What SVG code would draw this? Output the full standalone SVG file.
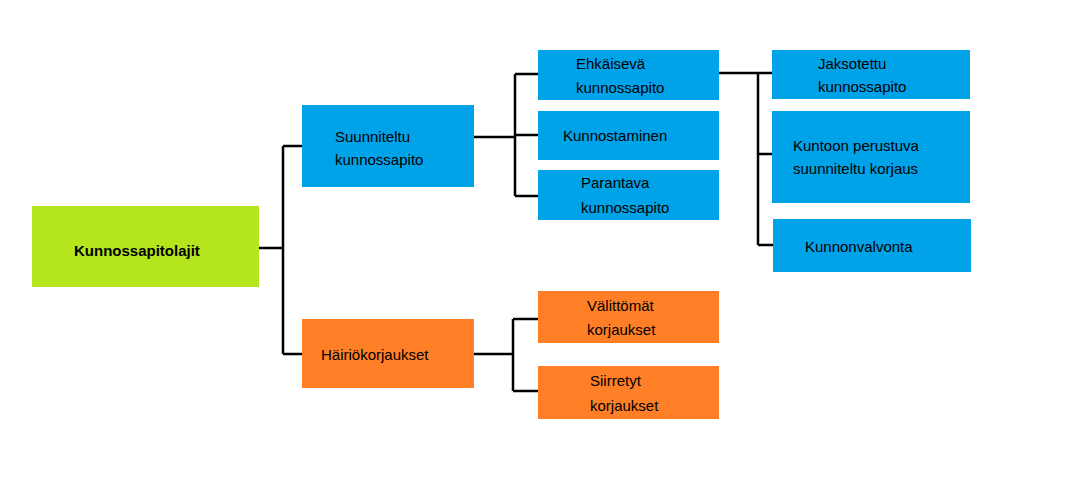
<svg xmlns="http://www.w3.org/2000/svg" width="1074" height="478" viewBox="0 0 1074 478">
<style>
.b{fill:#00A2E8}.o{fill:#FF7F27}.g{fill:#B5E61D}
text{font-family:"Liberation Sans",Arial,sans-serif;font-size:15px;fill:#000}
.c path{stroke:#000;stroke-width:2.5;fill:none}
</style>
<rect width="1074" height="478" fill="#fff"/>
<g class="c">
<path d="M259 248H283M283 146V354M283 146H302M283 354H302"/>
<path d="M474 137H515M515 74V196M515 74H538M515 135H538M515 196H538"/>
<path d="M474 354H513M513 319V391M513 319H538M513 391H538"/>
<path d="M719 73H758M758 73V245M758 73H772M758 154H772M758 245H773"/>
</g>
<g id="n-root"><rect class="g" x="32" y="206" width="227" height="81"/><text x="74" y="256" font-weight="bold">Kunnossapitolajit</text></g>
<g id="n-suun"><rect class="b" x="302" y="105" width="172" height="82"/><text x="335" y="142">Suunniteltu</text><text x="335" y="165">kunnossapito</text></g>
<g id="n-hairio"><rect class="o" x="302" y="319" width="172" height="69"/><text x="321" y="360">Häiriökorjaukset</text></g>
<g id="n-ehk"><rect class="b" x="538" y="50" width="181" height="50"/><text x="576" y="69">Ehkäisevä</text><text x="576" y="93">kunnossapito</text></g>
<g id="n-kunnost"><rect class="b" x="538" y="111" width="181" height="49"/><text x="563" y="141">Kunnostaminen</text></g>
<g id="n-par"><rect class="b" x="538" y="170" width="181" height="50"/><text x="581" y="188">Parantava</text><text x="581" y="213">kunnossapito</text></g>
<g id="n-val"><rect class="o" x="538" y="291" width="181" height="52"/><text x="587" y="311">Välittömät</text><text x="587" y="335">korjaukset</text></g>
<g id="n-siir"><rect class="o" x="538" y="366" width="181" height="53"/><text x="590" y="386">Siirretyt</text><text x="590" y="411">korjaukset</text></g>
<g id="n-jaks"><rect class="b" x="772" y="50" width="198" height="49"/><text x="818" y="69">Jaksotettu</text><text x="818" y="92">kunnossapito</text></g>
<g id="n-kunt"><rect class="b" x="772" y="111" width="198" height="92"/><text x="793" y="151">Kuntoon perustuva</text><text x="793" y="174">suunniteltu korjaus</text></g>
<g id="n-kval"><rect class="b" x="773" y="219" width="198" height="53"/><text x="805" y="252">Kunnonvalvonta</text></g>
</svg>
